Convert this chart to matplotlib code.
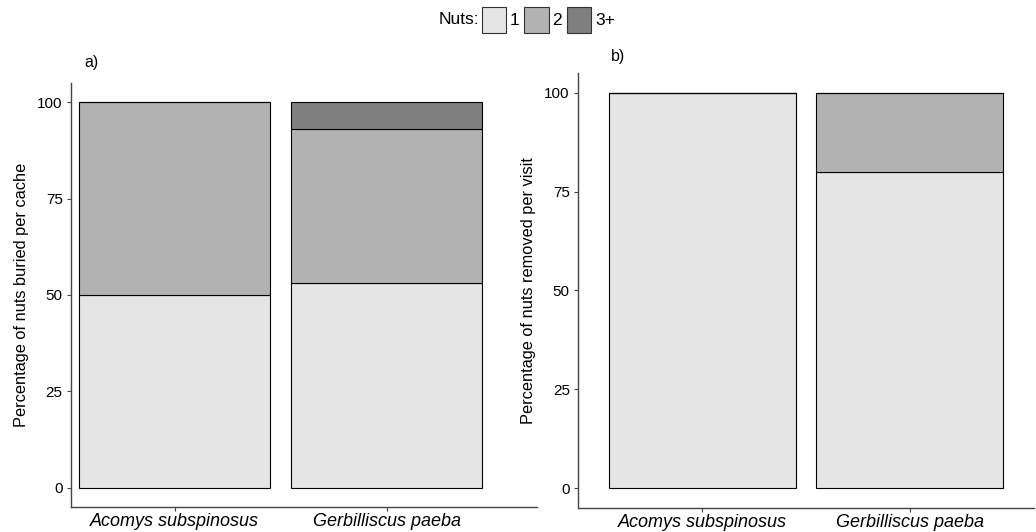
import numpy as np
import matplotlib
matplotlib.use("Agg")
import matplotlib.pyplot as plt
from matplotlib.patches import Patch

plt.rcParams['font.family'] = ['Liberation Sans', 'DejaVu Sans']

species = ['Acomys subspinosus', 'Gerbilliscus paeba']
nut_levels = ['1', '2', '3+']
nut_colors = ['#e5e5e5', '#b2b2b2', '#7f7f7f']

# a) percentage of nuts buried per cache
buried_1 = [50, 53]
buried_2 = [50, 40]
buried_3 = [0, 7]

# b) percentage of nuts removed per visit
removed_1 = [100, 80]
removed_2 = [0, 20]
removed_3 = [0, 0]

fig = plt.figure(figsize=(10.36, 5.32), dpi=100)
ax_a = fig.add_axes([0.0685, 0.047, 0.4498, 0.797])
ax_b = fig.add_axes([0.558, 0.045, 0.44, 0.818])

spine_col = '#444444'


def stacked(ax, series, ylabel, xlim):
    x = np.arange(1, len(species) + 1)
    bottom = np.zeros(len(species))
    for vals, col in zip(series, nut_colors):
        vals = np.array(vals, dtype=float)
        ax.bar(x, vals, width=0.9, bottom=bottom, color=col,
               edgecolor='black', linewidth=0.8)
        bottom += vals
    ax.set_xlim(*xlim)
    ax.set_ylim(-5, 105)
    ax.set_yticks([0, 25, 50, 75, 100])
    ax.set_xticks(x)
    ax.set_xticklabels(species, style='italic', fontsize=13)
    ax.tick_params(axis='y', labelsize=11, length=3, color=spine_col, pad=3)
    ax.tick_params(axis='x', length=3, color=spine_col, pad=1)
    for s in ['top', 'right']:
        ax.spines[s].set_visible(False)
    for s in ['left', 'bottom']:
        ax.spines[s].set_color(spine_col)
        ax.spines[s].set_linewidth(1.0)
    ax.set_ylabel(ylabel, fontsize=11.8, labelpad=6)


stacked(ax_a, [buried_1, buried_2, buried_3],
        'Percentage of nuts buried per cache', (0.51, 2.71))
stacked(ax_b, [removed_1, removed_2, removed_3],
        'Percentage of nuts removed per visit', (0.4, 2.6))

fig.text(0.081, 0.883, 'a)', fontsize=11.5, ha='left', va='center')
fig.text(0.590, 0.893, 'b)', fontsize=11.5, ha='left', va='center')

handles = [Patch(facecolor=c, edgecolor='#333333', linewidth=0.8) for c in nut_colors]
fig.text(0.4625, 0.963, 'Nuts:', fontsize=12.5, ha='right', va='center')
fig.legend(handles, nut_levels, loc='center left', bbox_to_anchor=(0.465, 0.963),
           ncol=3, frameon=False, fontsize=12.5, handlelength=1.4,
           handleheight=1.9, handletextpad=0.2, columnspacing=0.3,
           borderaxespad=0, borderpad=0)

fig.savefig('out.png', dpi=100)
